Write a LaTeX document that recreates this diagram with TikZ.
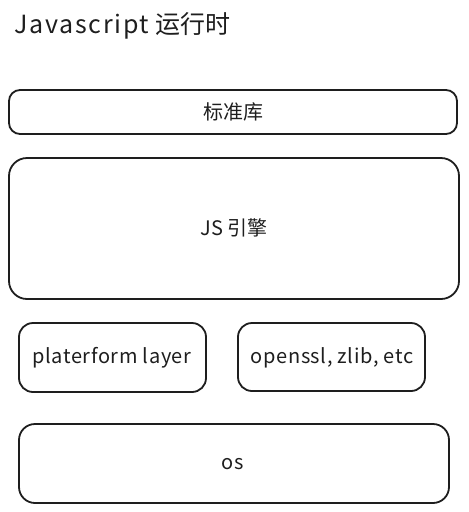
\documentclass[tikz,border=0pt]{standalone}
\usepackage{fontspec}
\setmainfont{Noto Sans CJK SC}
\newfontfamily\titlelatin[LetterSpace=7]{Noto Sans CJK SC}
\newfontfamily\lbllatin[LetterSpace=3]{Noto Sans CJK SC}
\begin{document}
\begin{tikzpicture}[x=1pt,y=-1pt,
  box/.style={draw=ink,line width=1.8pt,rounded corners=11pt},
  lbl/.style={text=ink,font=\fontsize{20}{24}\selectfont}]
\definecolor{ink}{HTML}{1E1E1E}
\useasboundingbox (0,0) rectangle (469,512);
\node[anchor=west,text=ink,font=\fontsize{25}{30}\selectfont,inner sep=0pt] (title) at (14,26) {{\titlelatin Javascript} 运行时};
\draw[box] (9,90) rectangle (457,134);
\node[lbl] (std) at (233,112) {标准库};
\draw[box,rounded corners=18pt] (9,158) rectangle (459,299);
\node[lbl] (js) at (234,228) {JS 引擎};
\draw[box,rounded corners=14pt] (19,323) rectangle (206,392);
\node[lbl] (plat) at (112,358) {\lbllatin platerform layer};
\draw[box,rounded corners=14pt] (238,323) rectangle (425,391);
\node[lbl] (ssl) at (332,358) {\lbllatin openssl, zlib, etc};
\draw[box,rounded corners=16pt] (19,424) rectangle (449,503);
\node[lbl] (os) at (233,464) {\lbllatin os};
\end{tikzpicture}
\end{document}
